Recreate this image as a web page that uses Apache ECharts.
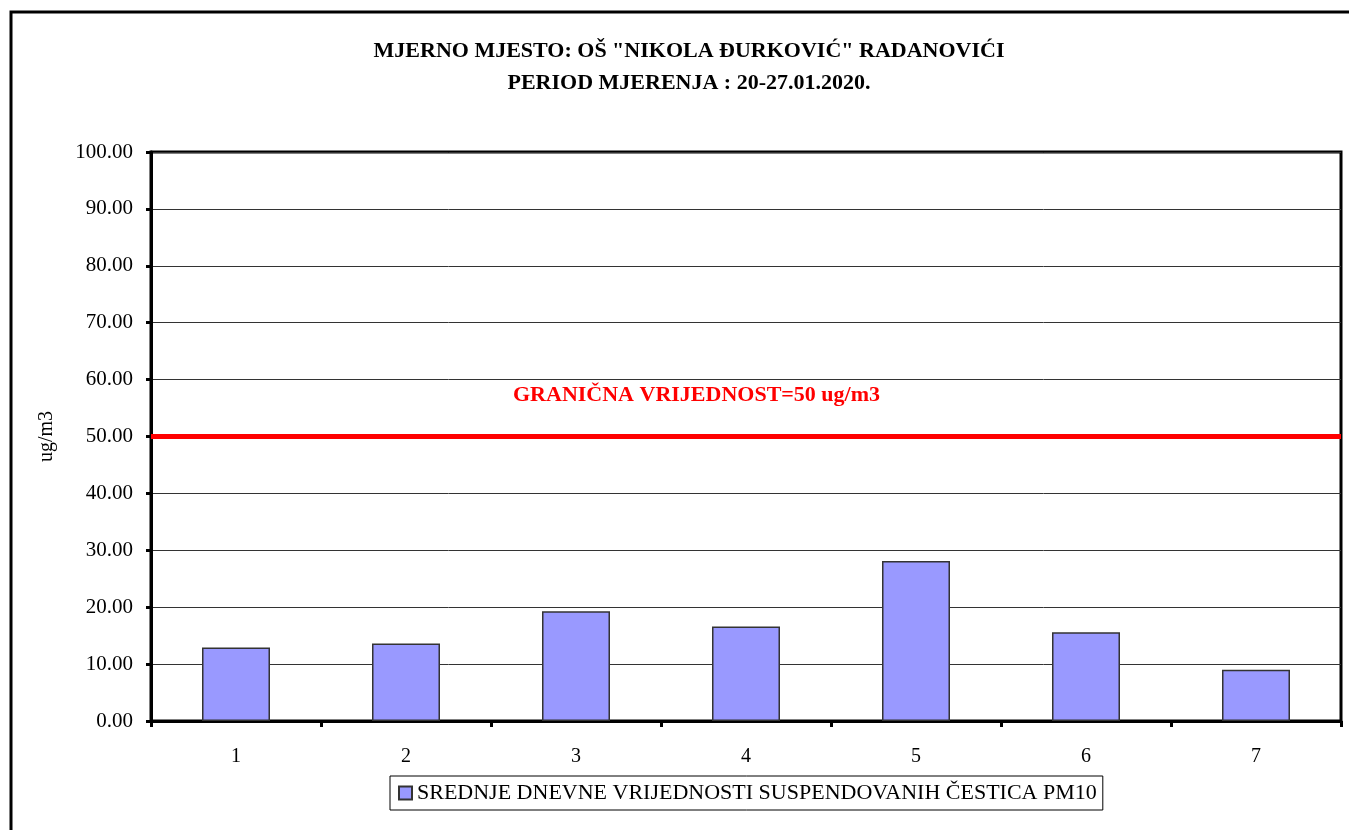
<!DOCTYPE html>
<html>
<head>
<meta charset="utf-8">
<script src="https://cdn.jsdelivr.net/npm/echarts@6/dist/echarts.min.js"></script>
<style>
  html, body { margin: 0; padding: 0; background: #fff; }
  #chart { width: 1349px; height: 830px; }
</style>
</head>
<body>
<div id="chart"></div>
<script>
// dani mjerenja
const days = ['1', '2', '3', '4', '5', '6', '7'];
// srednje dnevne vrijednosti PM10 (ug/m3)
const pm10 = [12.9, 13.6, 19.3, 16.6, 28.1, 15.6, 9.0];
const limitValue = 50;

const serif = '"Liberation Serif", "DejaVu Serif", serif';

let myChart = echarts.init(document.getElementById('chart'));
myChart.setOption({
  backgroundColor: '#ffffff',
  animation: false,
  title: {
    text: 'MJERNO MJESTO: OŠ "NIKOLA ĐURKOVIĆ" RADANOVIĆI\nPERIOD MJERENJA : 20-27.01.2020.',
    left: 684,
    top: 30,
    textAlign: 'center',
    textStyle: {
      fontFamily: serif,
      fontSize: 22,
      fontWeight: 'bold',
      color: '#000',
      lineHeight: 32
    }
  },
  graphic: [
    {
      // okvir oko cijelog grafikona
      type: 'rect',
      shape: {x: 11, y: 12, width: 1400, height: 900},
      style: {fill: 'none', stroke: '#000', lineWidth: 3},
      silent: true
    },
    {
      type: 'text',
      left: 513,
      top: 384,
      style: {
        text: 'GRANIČNA VRIJEDNOST=' + limitValue + ' ug/m3',
        fill: '#ff0000',
        font: 'bold 22px ' + serif
      },
      z: 10
    }
  ],
  grid: {
    left: 151,
    right: 8,
    top: 152,
    bottom: 109,
    show: true,
    borderColor: '#000',
    borderWidth: 3,
    containLabel: false
  },
  legend: {
    left: 390,
    top: 776,
    padding: [6, 6, 6, 8],
    borderColor: '#000',
    borderWidth: 1,
    itemWidth: 13,
    itemHeight: 13,
    itemGap: 4,
    icon: 'rect',
    textStyle: {fontFamily: serif, fontSize: 22, color: '#000'},
    data: ['SREDNJE DNEVNE VRIJEDNOSTI SUSPENDOVANIH ČESTICA PM10']
  },
  xAxis: {
    type: 'category',
    data: days,
    axisLine: {lineStyle: {color: '#000', width: 3}},
    axisTick: {show: true, length: 6, lineStyle: {color: '#000', width: 3}},
    axisLabel: {fontFamily: serif, fontSize: 20, color: '#000', margin: 26}
  },
  yAxis: {
    type: 'value',
    min: 0,
    max: 100,
    interval: 10,
    name: 'ug/m3',
    nameLocation: 'middle',
    nameRotate: 90,
    nameGap: 94,
    nameTextStyle: {fontFamily: serif, fontSize: 20, color: '#000'},
    axisLine: {show: true, lineStyle: {color: '#000', width: 3}},
    axisTick: {show: true, length: 5, lineStyle: {color: '#000', width: 3}},
    axisLabel: {
      fontFamily: serif,
      fontSize: 21,
      color: '#000',
      margin: 18,
      formatter: v => v.toFixed(2)
    },
    splitLine: {lineStyle: {color: '#333', width: 1}}
  },
  series: [
    {
      name: 'SREDNJE DNEVNE VRIJEDNOSTI SUSPENDOVANIH ČESTICA PM10',
      type: 'bar',
      data: pm10,
      barWidth: '40%',
      itemStyle: {color: '#9999ff', borderColor: '#333', borderWidth: 1.5},
      markLine: {
        silent: true,
        symbol: ['none', 'none'],
        label: {show: false},
        lineStyle: {color: '#ff0000', width: 5, type: 'solid'},
        data: [{yAxis: limitValue}]
      }
    }
  ]
});
</script>
</body>
</html>
